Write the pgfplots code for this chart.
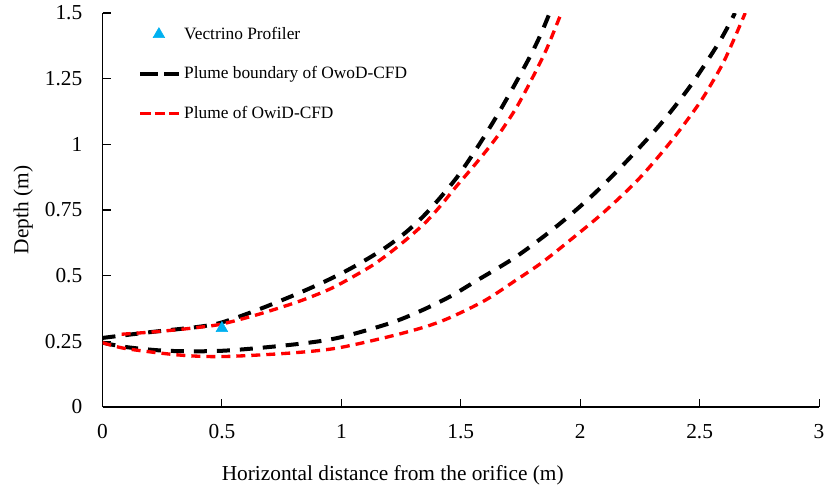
\documentclass[border=0pt]{standalone}
\usepackage{pgfplots}
\pgfplotsset{compat=1.18}
\usepackage{fontspec}
\setmainfont{Liberation Serif}
\definecolor{vblue}{RGB}{0,176,240}
\definecolor{vred}{RGB}{255,0,0}
\begin{document}
\begin{tikzpicture}[x=1pt,y=1pt]
\useasboundingbox (0,0) rectangle (620.25,367.5);
\begin{axis}[
  at={(76.875pt,62.25pt)}, anchor=south west,
  scale only axis,
  width=537.4pt, height=295.5pt,
  xmin=0, xmax=3, ymin=0, ymax=1.5,
  axis lines*=left,
  axis line style={line width=0.9pt, -},
  xtick={0,0.5,...,3}, ytick={0,0.25,...,1.5},
  xticklabels={0,0.5,1,1.5,2,2.5,3},
  yticklabels={0,0.25,0.5,0.75,1,1.25,1.5},
  tick align=inside, major tick length=6pt,
  tick style={line width=0.8pt, black},
  ticklabel style={font=\fontsize{16}{18}\selectfont},
  xticklabel style={inner sep=0pt, anchor=north, yshift=-13pt},
  yticklabel style={inner sep=0pt, anchor=east, xshift=-15pt},
  xlabel={Horizontal distance from the orifice (m)},
  ylabel={Depth (m)},
  label style={font=\fontsize{16}{18}\selectfont},
  xlabel style={at={(axis description cs:0.405,0)}, anchor=north, inner sep=0pt, yshift=-44pt},
  ylabel style={at={(axis description cs:0,0.5)}, anchor=south, inner sep=0pt, yshift=52pt},
  legend style={at={(axis cs:0.1485,1.447)}, anchor=north west, draw=none, fill=none,
    inner sep=0pt, row sep=19pt, column sep=2.5pt,
    font=\fontsize{13}{15}\selectfont,
    nodes={inner sep=0pt}},
  legend cell align=left,
  clip=true,
]
\addplot[only marks, mark=triangle*, mark size=5pt, color=vblue,
  legend image code/.code={\path[draw=none] (0pt,0pt) -- (27.75pt,0pt); \path[draw=none] plot[mark=triangle*, mark size=5pt, mark options={draw=vblue, fill=vblue}] coordinates {(14pt,0pt)};}]
  coordinates {(0.5,0.30)};
\addlegendentry{Vectrino Profiler}
% OwoD upper
\addplot[black, line width=3pt, dash pattern=on 9.75pt off 7.5pt, smooth,
  legend image code/.code={\draw[black, line width=3pt, dash pattern=on 13pt off 5pt] (0pt,0pt) -- (29pt,0pt);}]
  coordinates {(0,0.263)(0.2,0.285)(0.4,0.305)(0.5,0.322)(0.65,0.37)(0.8,0.425)(0.91,0.469)(1.001,0.509)(1.091,0.554)(1.182,0.605)(1.266,0.662)(1.342,0.725)(1.412,0.795)(1.482,0.872)(1.538,0.945)(1.593,1.022)(1.649,1.105)(1.698,1.182)(1.747,1.262)(1.796,1.345)(1.838,1.425)(1.872,1.5)};
\addlegendentry{Plume boundary of OwoD-CFD}
% OwiD upper
\addplot[vred, line width=2.5pt, dash pattern=on 6.75pt off 4.5pt, smooth,
  legend image code/.code={\draw[vred, line width=2.5pt, dash pattern=on 7.8pt off 3pt] (0pt,0pt) -- (29pt,0pt);}]
  coordinates {(0.08,0.277)(0.2,0.285)(0.3,0.293)(0.4,0.303)(0.5,0.316)(0.65,0.352)(0.8,0.395)(0.889,0.425)(0.966,0.455)(1.049,0.496)(1.133,0.541)(1.21,0.592)(1.287,0.649)(1.356,0.706)(1.419,0.77)(1.475,0.833)(1.524,0.885)(1.575,0.94)(1.628,1.0)(1.67,1.052)(1.733,1.14)(1.796,1.246)(1.858,1.36)(1.921,1.5)};
\addlegendentry{Plume of OwiD-CFD}
% OwoD lower
\addplot[black, line width=3pt, dash pattern=on 9.75pt off 7.5pt, smooth, forget plot]
  coordinates {(0,0.245)(0.1,0.228)(0.27,0.214)(0.5,0.214)(0.78,0.236)(0.98,0.262)(1.2,0.318)(1.33,0.365)(1.454,0.42)(1.559,0.477)(1.733,0.573)(1.9,0.687)(2.054,0.808)(2.2,0.941)(2.34,1.081)(2.465,1.227)(2.584,1.392)(2.648,1.5)};
% OwiD lower
\addplot[vred, line width=2.5pt, dash pattern=on 6.75pt off 4.5pt, smooth, forget plot]
  coordinates {(0,0.245)(0.1,0.222)(0.32,0.198)(0.5,0.192)(0.78,0.205)(0.98,0.224)(1.2,0.268)(1.35,0.305)(1.454,0.34)(1.6,0.405)(1.733,0.484)(1.84,0.55)(1.959,0.636)(2.102,0.744)(2.248,0.871)(2.38,1.011)(2.494,1.15)(2.547,1.227)(2.598,1.309)(2.64,1.392)(2.691,1.5)};
\end{axis}
\end{tikzpicture}
\end{document}
